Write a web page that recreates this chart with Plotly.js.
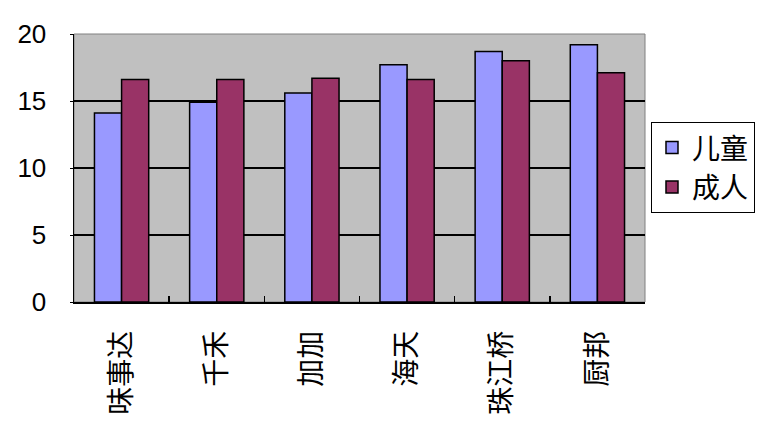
<!DOCTYPE html>
<html>
<head>
<meta charset="utf-8">
<script src="https://cdn.plot.ly/plotly-3.0.1.min.js"></script>
<style>html,body{margin:0;padding:0;background:#fff;}#chart{width:782px;height:433px;}</style>
</head>
<body>
<div id="chart"></div>
<script>
var categories = ["味事达", "千禾", "加加", "海天", "珠江桥", "厨邦"];
var childValues = [14.1, 14.9, 15.6, 17.7, 18.7, 19.2];
var adultValues = [16.6, 16.6, 16.7, 16.6, 18.0, 17.1];
var seriesNames = ["儿童", "成人"];
var yTicks = [0, 5, 10, 15, 20];

var cjk = '"Noto Sans CJK SC", sans-serif';
var traces = [
  {type: 'bar', name: seriesNames[0], x: categories, y: childValues,
   marker: {color: '#9999FF', line: {color: '#000000', width: 1.5}}},
  {type: 'bar', name: seriesNames[1], x: categories, y: adultValues,
   marker: {color: '#993366', line: {color: '#000000', width: 1.5}}}
];
var layout = {
  width: 782, height: 433,
  margin: {l: 74, r: 137, t: 34, b: 131},
  paper_bgcolor: '#ffffff',
  plot_bgcolor: '#C0C0C0',
  barmode: 'group',
  bargap: 0.43,
  bargroupgap: 0,
  showlegend: true,
  legend: {x: 1.0105, xanchor: 'left', y: 0.672, yanchor: 'top',
    bordercolor: '#000000', borderwidth: 1, bgcolor: '#ffffff',
    font: {family: cjk, size: 28, color: '#000000'},
    tracegroupgap: 0, itemwidth: 30},
  xaxis: {type: 'category', showline: true, linecolor: '#000000', linewidth: 1.5,
    ticks: 'inside', tickson: 'boundaries', ticklen: 6, tickcolor: '#000000', tickwidth: 1.5,
    tickangle: -90, ticklabelstandoff: 16,
    tickfont: {family: cjk, size: 28, color: '#000000'},
    showgrid: false, zeroline: false, fixedrange: true},
  yaxis: {range: [0, 20], tickvals: yTicks, showline: true, linecolor: '#000000', linewidth: 1.5,
    ticks: 'outside', ticklen: 3, tickcolor: '#000000', ticklabelstandoff: 18,
    tickfont: {family: '"Liberation Sans", sans-serif', size: 26, color: '#000000'},
    showgrid: true, gridcolor: '#000000', gridwidth: 1.2, zeroline: false, fixedrange: true},
  shapes: [{type: 'rect', xref: 'paper', yref: 'paper', x0: 0, x1: 1, y0: 0, y1: 1,
    line: {color: '#808080', width: 1}, layer: 'below'}]
};
Plotly.newPlot('chart', traces, layout, {staticPlot: true, displayModeBar: false});
</script>
</body>
</html>
